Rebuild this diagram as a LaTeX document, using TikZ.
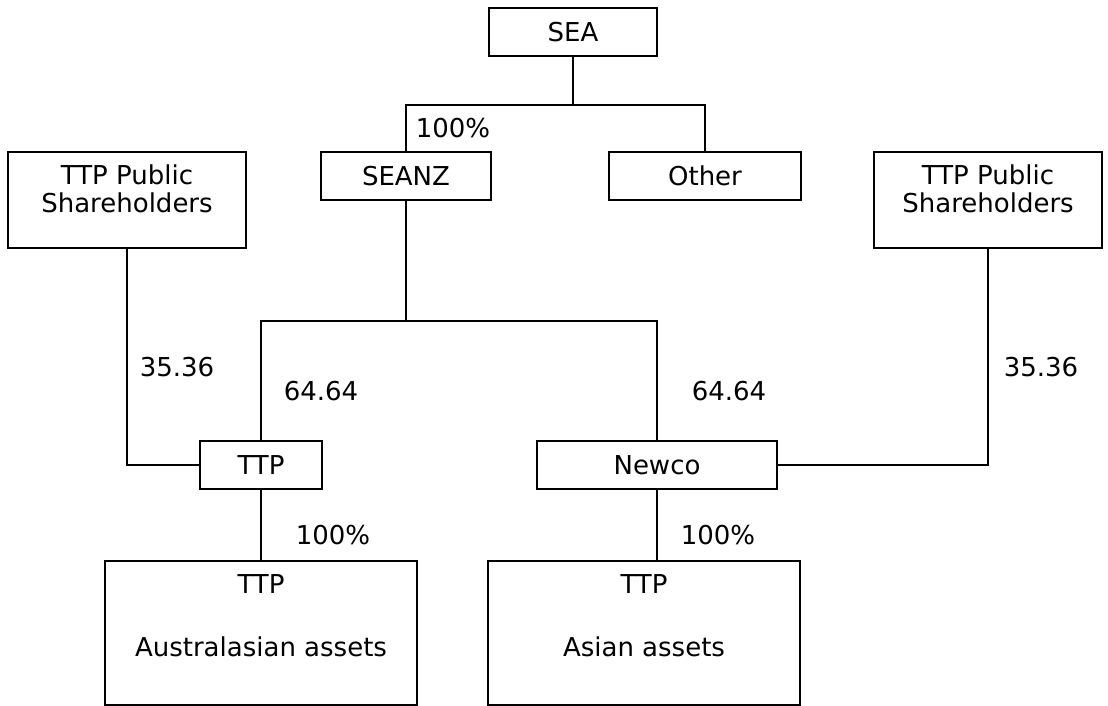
\documentclass[tikz,border=0pt]{standalone}
\usepackage{fontspec}
\setmainfont{DejaVu Sans}

\begin{document}
\begin{tikzpicture}[x=1pt, y=-1pt, line width=1.5pt,
    every node/.style={font=\fontsize{26}{28}\selectfont},
    box/.style={draw, inner sep=0pt},
    pct/.style={anchor=west, inner sep=0pt}]
    \useasboundingbox (0,0) rectangle (1108,706);
    % ownership boxes
    \node (SEA) [box, minimum width=168pt, minimum height=48pt] at (573,32) {SEA};
    \node (SEANZ) [box, minimum width=170pt, minimum height=48pt] at (406,176) {SEANZ};
    \node (Other) [box, minimum width=192pt, minimum height=48pt] at (705,176) {Other};
    \node (PubL) [box, minimum width=238pt, minimum height=96pt, label={[align=center, anchor=north, yshift=-9pt]north:TTP Public\\Shareholders}] at (127,200) {};
    \node (PubR) [box, minimum width=228pt, minimum height=96pt, label={[align=center, anchor=north, yshift=-9pt]north:TTP Public\\Shareholders}] at (988,200) {};
    \node (TTP) [box, minimum width=122pt, minimum height=48pt] at (261,465) {TTP};
    \node (Newco) [box, minimum width=240pt, minimum height=48pt] at (657,465) {Newco};
    \node (AusA) [box, minimum width=312pt, minimum height=144pt, label={[align=center, anchor=north, yshift=-10pt]north:TTP\\[35pt]Australasian assets}] at (261,633) {};
    \node (AsiaA) [box, minimum width=312pt, minimum height=144pt, label={[align=center, anchor=north, yshift=-10pt]north:TTP\\[35pt]Asian assets}] at (644,633) {};
    % connectors
    \coordinate (topbar) at (SEA.south |- 0,105);
    \coordinate (midbar) at (SEANZ.south |- 0,321);
    \draw (SEA.south) -- (topbar);
    \draw (SEANZ.north) |- (topbar) -| (Other.north);
    \draw (SEANZ.south) -- (midbar);
    \draw (TTP.north) |- (midbar) -| (Newco.north);
    \draw (PubL.south) |- (TTP.west);
    \draw (PubR.south) |- (Newco.east);
    \draw (TTP.south) -- (TTP.south |- AusA.north);
    \draw (Newco.south) -- (Newco.south |- AsiaA.north);
    % percentages
    \node (pctSEANZ) [pct] at (415,128) {100\%};
    \node (pctPubL) [pct] at (139,367) {35.36};
    \node (pctTTP) [pct] at (283,391) {64.64};
    \node (pctNewco) [pct] at (691,391) {64.64};
    \node (pctPubR) [pct] at (1003,367) {35.36};
    \node (pctAusA) [pct] at (295,535) {100\%};
    \node (pctAsiaA) [pct] at (680,535) {100\%};
\end{tikzpicture}
\end{document}
